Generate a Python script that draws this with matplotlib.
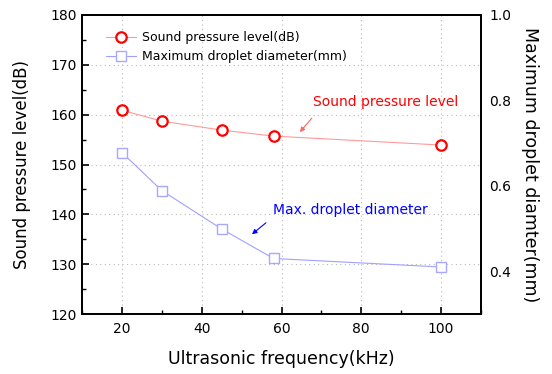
import numpy as np
import matplotlib.pyplot as plt
from matplotlib.ticker import MultipleLocator

# data
freq = [20, 30, 45, 58, 100]
spl = [160.9, 158.7, 156.9, 155.7, 153.9]
droplet = [0.678, 0.589, 0.499, 0.430, 0.410]

plt.rcParams['font.family'] = ['DejaVu Sans']

fig = plt.figure(figsize=(5.52, 3.74), dpi=100)
ax = fig.add_axes([82/552, 1 - 314/374, 399/552, 299/374])
ax2 = ax.twinx()

l1, = ax.plot(freq, spl, color='#ff9a9a', lw=0.8, marker='o', ms=7.5,
              mfc='white', mec='red', mew=1.6, label='Sound pressure level(dB)')
l2, = ax2.plot(freq, droplet, color='#a0a0ff', lw=0.8, marker='s', ms=7.5,
               mfc='white', mec='#a8a8ff', mew=1.0, label='Maximum droplet diameter(mm)')

ax.set_xlim(10, 110)
ax.set_ylim(120, 180)
ax2.set_ylim(0.3, 1.0)

ax.xaxis.set_major_locator(MultipleLocator(20))
ax.xaxis.set_minor_locator(MultipleLocator(10))
ax.yaxis.set_major_locator(MultipleLocator(10))
ax.yaxis.set_minor_locator(MultipleLocator(5))
ax2.set_yticks([0.4, 0.6, 0.8, 1.0])

ax.grid(True, which='major', color='#bbbbbb', linestyle=(0, (1, 3)), lw=0.8)
ax.set_axisbelow(True)

ax.tick_params(axis='both', which='major', direction='in', length=5, width=1.2, labelsize=10)
ax.tick_params(axis='both', which='minor', direction='in', length=3, width=1.0)
ax.tick_params(axis='x', pad=6)
ax2.tick_params(axis='y', length=0, labelsize=10, pad=6)

for s in ['left', 'right', 'top', 'bottom']:
    ax.spines[s].set_linewidth(1.3)
    ax2.spines[s].set_linewidth(1.3)

ax.set_xlabel('Ultrasonic frequency(kHz)', fontsize=12.5, labelpad=10)
ax.set_ylabel('Sound pressure level(dB)', fontsize=12, labelpad=14)
ax2.set_ylabel('Maximum droplet diamter(mm)', fontsize=12.5, rotation=270, labelpad=20)

ax.legend(handles=[l1, l2], loc='upper left', frameon=False, fontsize=9,
          handlelength=2.4, borderaxespad=0.9, labelspacing=0.45, handletextpad=0.5,
          bbox_to_anchor=(0.02, 1.0))

ax.text(67.9, 162.5, 'Sound pressure level', color='red', fontsize=10, va='center')
ax.annotate('', xy=(64.6, 156.5), xytext=(67.6, 159.3),
            arrowprops=dict(arrowstyle='-|>', color='#ff6666', lw=0.8, mutation_scale=7,
                            shrinkA=0, shrinkB=0))
ax.text(57.9, 140.9, 'Max. droplet diameter', color='blue', fontsize=10, va='center')
ax.annotate('', xy=(52.6, 136.0), xytext=(56.1, 138.3),
            arrowprops=dict(arrowstyle='-|>', color='blue', lw=0.8, mutation_scale=7,
                            shrinkA=0, shrinkB=0))

fig.savefig('out.png', dpi=100)
